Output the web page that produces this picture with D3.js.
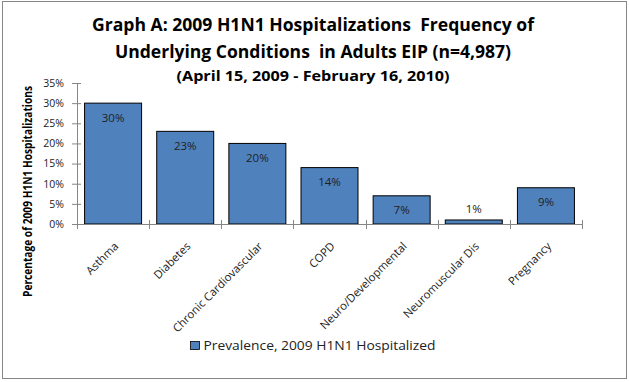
<!DOCTYPE html>
<html>
<head>
<meta charset="utf-8">
<script src="https://cdn.jsdelivr.net/npm/d3@7"></script>
<style>
  body { margin: 0; background: #fff; }
  text { font-family: "Open Sans", Lato, sans-serif; }
</style>
</head>
<body>
<div id="chart"></div>
<script>
// data
const categories = ["Asthma", "Diabetes", "Chronic Cardiovascular", "COPD",
  "Neuro/Developmental", "Neuromuscular Dis", "Pregnancy"];
const prevalence = [30, 23, 20, 14, 7, 1, 9];
const yTicks = [0, 5, 10, 15, 20, 25, 30, 35];
const titleLines = [
  "Graph A: 2009 H1N1 Hospitalizations  Frequency of",
  "Underlying Conditions  in Adults EIP (n=4,987)",
  "(April 15, 2009 - February 16, 2010)"
];
const seriesName = "Prevalence, 2009 H1N1 Hospitalized";
const yTitle = "Percentage of 2009 H1N1 Hospitalizations";

const W = 629, H = 382;
const margin = { top: 83, right: 47, bottom: 158, left: 77 };
const w = W - margin.left - margin.right;
const h = H - margin.top - margin.bottom;
const axisCol = "#868686";

const svg = d3.select("#chart").append("svg")
  .attr("width", W).attr("height", H);

// chart frame
svg.append("rect")
  .attr("x", 2.5).attr("y", 1.5)
  .attr("width", 624).attr("height", 377)
  .attr("fill", "#fff").attr("stroke", axisCol).attr("stroke-width", 1);

// title (widths measured on the reference)
const titleSizes = [17, 17, 14.2];
const titleY = [31, 57.5, 81];
const titleW = [442, 396, 273];
titleLines.forEach((t, i) => {
  svg.append("text")
    .attr("x", 313).attr("y", titleY[i])
    .attr("text-anchor", "middle")
    .attr("font-weight", "bold")
    .attr("font-size", titleSizes[i])
    .attr("textLength", titleW[i])
    .attr("lengthAdjust", "spacingAndGlyphs")
    .attr("fill", "#000")
    .style("white-space", "pre")
    .text(t);
});

const root = svg.append("g").attr("transform", `translate(${margin.left},${margin.top})`);

const x = d3.scaleBand().domain(categories).range([0, w]).padding(0);
const y = d3.scaleLinear().domain([0, 35]).range([h, 0]);

const barW = x.bandwidth() * 0.79;

// bars
root.selectAll("rect.bar").data(prevalence)
  .enter().append("rect")
  .attr("class", "bar")
  .attr("x", (d, i) => x(categories[i]) + (x.bandwidth() - barW) / 2)
  .attr("y", d => y(d))
  .attr("width", barW)
  .attr("height", d => h - y(d))
  .attr("fill", "#4F81BD")
  .attr("stroke", "#000")
  .attr("stroke-width", 1);

// data labels: inside top, or above when the bar is too short
root.selectAll("text.lbl").data(prevalence)
  .enter().append("text")
  .attr("class", "lbl")
  .attr("x", (d, i) => x(categories[i]) + x.bandwidth() / 2)
  .attr("y", d => (h - y(d) < 20 ? y(d) - 7 : y(d) + 18.5))
  .attr("text-anchor", "middle")
  .attr("font-size", 11.5)
  .attr("fill", "#222")
  .text(d => d + "%");

// y axis (cross tick marks)
const yAxis = root.append("g")
  .call(d3.axisLeft(y).tickValues(yTicks).tickFormat(d => d + "%").tickSize(5).tickSizeOuter(0));
yAxis.select(".domain").attr("stroke", axisCol);
yAxis.selectAll(".tick line").attr("stroke", axisCol).attr("x1", 4).attr("x2", -5);
yAxis.selectAll(".tick text")
  .attr("font-size", 10.5).attr("fill", "#222")
  .attr("font-family", "'Open Sans', sans-serif").attr("x", -13);

// x axis: cross ticks at band boundaries
const xAxisG = root.append("g").attr("transform", `translate(0,${h})`);
xAxisG.append("line")
  .attr("x1", 0).attr("x2", w).attr("y1", 0.5).attr("y2", 0.5)
  .attr("stroke", axisCol);
const bounds = categories.map(c => x(c)).concat([w]);
xAxisG.selectAll("line.tk").data(bounds).enter().append("line")
  .attr("class", "tk")
  .attr("x1", d => Math.round(d) + 0.5).attr("x2", d => Math.round(d) + 0.5)
  .attr("y1", -4).attr("y2", 5)
  .attr("stroke", axisCol);
xAxisG.selectAll("text.cat").data(categories).enter().append("text")
  .attr("class", "cat")
  .attr("transform", d => `translate(${x(d) + x.bandwidth() / 2 + 6},${23}) rotate(-45)`)
  .attr("text-anchor", "end")
  .attr("font-size", 11.3)
  .attr("fill", "#222")
  .text(d => d);

// y title
svg.append("text")
  .attr("transform", "translate(31.5,191.5) rotate(-90)")
  .attr("text-anchor", "middle")
  .attr("font-family", "Lato, sans-serif")
  .attr("font-weight", "bold")
  .attr("font-size", 11.5)
  .attr("textLength", 211)
  .attr("lengthAdjust", "spacingAndGlyphs")
  .attr("fill", "#000")
  .text(yTitle);

// legend
const leg = svg.append("g").attr("transform", "translate(190,341)");
leg.append("rect")
  .attr("x", 0.5).attr("y", 0.5).attr("width", 9).attr("height", 8)
  .attr("fill", "#4F81BD").attr("stroke", "#000").attr("stroke-width", 0.8);
leg.append("text")
  .attr("x", 13.5).attr("y", 8.8)
  .attr("font-size", 13.5)
  .attr("textLength", 232)
  .attr("lengthAdjust", "spacingAndGlyphs")
  .attr("fill", "#222")
  .text(seriesName);
</script>
</body>
</html>
